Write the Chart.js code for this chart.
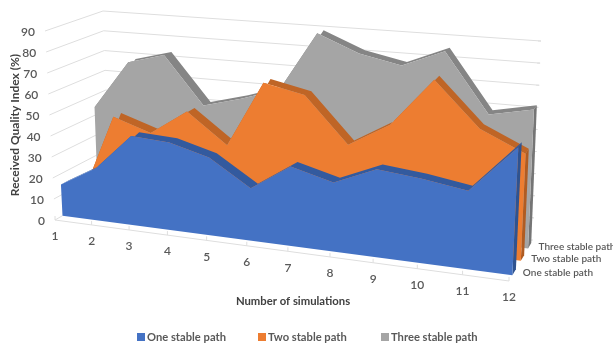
<!DOCTYPE html>
<html>
<head>
<meta charset="utf-8">
<script src="https://cdn.jsdelivr.net/npm/chart.js@4/dist/chart.umd.min.js"></script>
<style>
  html, body { margin: 0; background: #fff; }
  canvas { display: block; }
</style>
</head>
<body>
<canvas id="chart" width="613" height="346"></canvas>
<script>
const categories = ['1', '2', '3', '4', '5', '6', '7', '8', '9', '10', '11', '12'];
const valueTicks = [0, 10, 20, 30, 40, 50, 60, 70, 80, 90];
const seriesNames = ['One stable path', 'Two stable path', 'Three stable path'];
const oneStable = [15, 25, 42, 41, 36, 24, 36, 31, 39, 37, 34, 55];
const twoStable = [3, 45, 39, 51, 37, 68, 64, 43, 54, 76, 56, 47];
const threeStable = [44, 68, 73, 50, 55, 61, 89, 81, 77, 85, 58, 62];

const seriesValues = [oneStable, twoStable, threeStable];
const seriesDepth = [0.13, 0.47, 0.78];
const bandDepth = 0.14;
const faceColors = ['#4472C4', '#ED7D31', '#A5A5A5'];
const edgeColors = ['#335A9E', '#BF6526', '#858585'];
const sideColors = ['#2F5390', '#B05C22', '#757575'];
const gridColor = '#DEDEDE';
const textColor = '#595959';

// unit square -> quad, corners ordered front-left, front-right, back-right, back-left
function squareToQuad(q) {
  const [[x0, y0], [x1, y1], [x2, y2], [x3, y3]] = q;
  const dx1 = x1 - x2, dx2 = x3 - x2, sx = x0 - x1 + x2 - x3;
  const dy1 = y1 - y2, dy2 = y3 - y2, sy = y0 - y1 + y2 - y3;
  const det = dx1 * dy2 - dx2 * dy1;
  const g = (sx * dy2 - dx2 * sy) / det;
  const h = (dx1 * sy - sx * dy1) / det;
  const a = x1 - x0 + g * x1, b = x3 - x0 + h * x3;
  const d = y1 - y0 + g * y1, e = y3 - y0 + h * y3;
  return (u, v) => {
    const w = g * u + h * v + 1;
    return [(a * u + b * v + x0) / w, (d * u + e * v + y0) / w];
  };
}

const floorPlane = squareToQuad([[55, 220], [509, 281], [533, 240], [109, 189]]);
const topPlane = squareToQuad([[45, 31], [519, 70], [541, 41], [103, 11]]);
const maxValue = 90;

// category index, value and depth (0 front, 1 back) to canvas position
function project(index, value, depth) {
  let u = index / (categories.length - 1);
  u += u * (1 - u) * (0.027 + 0.055 * depth); // flatten the foreshortening a little, more towards the back
  const f = floorPlane(u, depth);
  const t = topPlane(u, depth);
  const k = value / maxValue;
  return { x: f[0] + (t[0] - f[0]) * k, y: f[1] + (t[1] - f[1]) * k };
}

const last = categories.length - 1;
const datasets = [];
let drawOrder = 0;

function addShape(points, color) {
  datasets.push({
    data: points, showLine: true, fill: 'shape', backgroundColor: color,
    borderWidth: 0, pointRadius: 0, order: drawOrder--, clip: false
  });
}

function addLine(points, color) {
  datasets.push({
    data: points, showLine: true, fill: false, borderColor: color,
    borderWidth: 1, pointRadius: 0, order: drawOrder--, clip: false
  });
}

// walls
valueTicks.forEach(v => {
  if (v > 0) addLine([project(0, v, 0), project(0, v, 1), project(last, v, 1)], gridColor);
  addLine([project(last, v, 1), { ...project(last, v, 1), x: project(last, v, 1).x - 3 }], gridColor);
});

// floor edge with tick marks
addLine([project(0, 0, 0.13), project(0, 0, 0), project(last, 0, 0)], gridColor);
categories.forEach((c, i) => {
  const p = project(i, 0, 0);
  addLine([p, { x: p.x, y: p.y - 4 }], gridColor);
});

// series back to front: top strip, right side, then the face
for (let s = seriesValues.length - 1; s >= 0; s--) {
  const vals = seriesValues[s];
  const d0 = seriesDepth[s];
  const d1 = d0 + bandDepth;
  const front = vals.map((v, i) => project(i, v, d0));
  const back = vals.map((v, i) => project(i, v, d1));
  addShape(front.concat(back.slice().reverse()), edgeColors[s]);
  addShape([project(last, 0, d0), project(last, vals[last], d0), project(last, vals[last], d1), project(last, 0, d1)], sideColors[s]);
  addShape([project(0, 0, d0)].concat(front, [project(last, 0, d0)]), faceColors[s]);
}

const chartText = {
  id: 'chartText',
  afterDraw(chart) {
    const ctx = chart.ctx;
    ctx.save();
    ctx.fillStyle = textColor;
    ctx.textBaseline = 'middle';

    ctx.font = '600 12px Lato';
    ctx.textAlign = 'right';
    valueTicks.forEach(v => {
      const p = project(0, v, 0);
      ctx.fillText(String(v), p.x - 10, p.y + 1);
    });

    ctx.textAlign = 'center';
    categories.forEach((c, i) => {
      const p = project(i, 0, 0);
      ctx.fillText(c, p.x, p.y + 16.5);
    });

    ctx.font = '600 10px Lato';
    ctx.textAlign = 'left';
    seriesNames.forEach((name, s) => {
      const p = project(last, 0, seriesDepth[s]);
      ctx.fillText(name, p.x + 10.5, p.y - 2);
    });

    ctx.fillStyle = '#404040';
    ctx.font = 'bold 11.3px Lato';
    ctx.textAlign = 'center';
    ctx.fillText('Number of simulations', 293, 301);
    ctx.save();
    ctx.font = 'bold 12px Lato';
    ctx.translate(15, 125);
    ctx.rotate(-Math.PI / 2);
    ctx.fillText('Received Quality Index (%)', 0, 0);
    ctx.restore();

    // legend row
    const legendX = [137, 258, 381];
    ctx.font = 'bold 11.2px Lato';
    ctx.textAlign = 'left';
    seriesNames.forEach((name, s) => {
      ctx.fillStyle = faceColors[s];
      ctx.fillRect(legendX[s], 333, 8, 8);
      ctx.fillStyle = textColor;
      ctx.fillText(name, legendX[s] + 10, 337);
    });
    ctx.restore();
  }
};

new Chart(document.getElementById('chart'), {
  type: 'scatter',
  data: { datasets },
  plugins: [chartText],
  options: {
    responsive: false,
    animation: false,
    events: [],
    layout: { padding: 0 },
    plugins: { legend: { display: false }, tooltip: { enabled: false }, title: { display: false } },
    scales: {
      x: { type: 'linear', min: 0, max: 613, display: false },
      y: { type: 'linear', min: 0, max: 346, reverse: true, display: false }
    }
  }
});
</script>
</body>
</html>
